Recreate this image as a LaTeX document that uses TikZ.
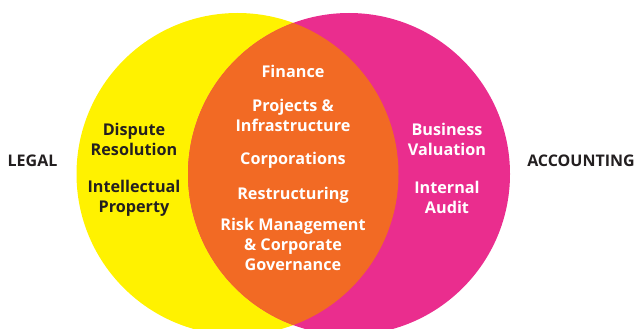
\documentclass[tikz,border=0pt]{standalone}
\usepackage{fontspec}
\setmainfont{Open Sans}
\definecolor{vyellow}{HTML}{FFF200}
\definecolor{vmagenta}{HTML}{EA2D8E}
\definecolor{vorange}{HTML}{F26A24}
\definecolor{vdark}{HTML}{231F20}
\begin{document}
\begin{tikzpicture}[x=1pt,y=-1pt,
  lbl/.style={anchor=base,align=center,inner sep=0pt,
    font=\fontsize{16.2}{19.8}\selectfont\bfseries},
  darklbl/.style={lbl,text=vdark},
  whitelbl/.style={lbl,text=white},
  sidelbl/.style={anchor=base,inner sep=0pt,text=vdark,
    font=\fontsize{16}{19}\selectfont\bfseries}]
\useasboundingbox (0,0) rectangle (637,329);
\clip (0,0) rectangle (637,329);
\fill[vyellow] (237.5,174) circle[radius=161];
\fill[vmagenta] (349,174) circle[radius=161];
\begin{scope}
  \clip (237.5,174) circle[radius=161];
  \fill[vorange] (349,174) circle[radius=161];
\end{scope}
\node[sidelbl] (legal) at (32.5,166.5) {LEGAL};
\node[sidelbl] (acc) at (581,166.5) {ACCOUNTING};
\node[darklbl] (dispute) at (134,155) {Dispute\\Resolution};
\node[darklbl] (ip) at (134,212.5) {Intellectual\\Property};
\node[whitelbl] (fin) at (293,77.7) {Finance};
\node[whitelbl] (proj) at (293,131) {Projects \&\\Infrastructure};
\node[whitelbl] (corp) at (293,164) {Corporations};
\node[whitelbl] (restr) at (293,199.3) {Restructuring};
\node[whitelbl] (risk) at (293,270) {Risk Management\\\& Corporate\\Governance};
\node[whitelbl] (bv) at (447,155) {Business\\Valuation};
\node[whitelbl] (ia) at (447,213.5) {Internal\\Audit};
\end{tikzpicture}
\end{document}
